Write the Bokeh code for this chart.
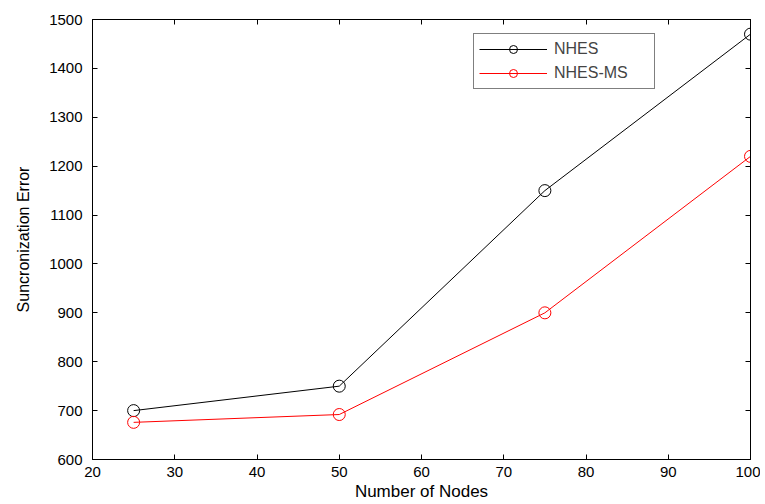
from bokeh.plotting import figure
from bokeh.models import LinearAxis, Range1d, FixedTicker, Legend, LegendItem
from bokeh.embed import file_html
from bokeh.resources import INLINE

nodes = [25, 50, 75, 100]
nhes = [700, 750, 1150, 1470]
nhes_ms = [676, 692, 900, 1220]
x_ticks = [20, 30, 40, 50, 60, 70, 80, 90, 100]
y_ticks = [600, 700, 800, 900, 1000, 1100, 1200, 1300, 1400, 1500]

FONT = "Liberation Sans"
W, H = 760, 504
p = figure(width=W, height=H, output_backend="svg", toolbar_location=None,
           x_range=Range1d(20, 100), y_range=Range1d(600, 1500),
           min_border_left=92, min_border_right=W - 750, min_border_top=19, min_border_bottom=H - 459,
           x_axis_label="Number of Nodes", y_axis_label="Suncronization Error")
p.grid.visible = False
p.outline_line_color = "black"
p.outline_line_width = 1
p.background_fill_color = "white"
p.border_fill_color = "white"

def style(ax, ticks, labels=True):
    ax.ticker = FixedTicker(ticks=ticks)
    ax.major_tick_in = 5
    ax.major_tick_out = 0
    ax.minor_tick_line_color = None
    ax.axis_line_color = "black"
    ax.major_tick_line_color = "black"
    ax.major_label_text_font = FONT
    ax.major_label_text_font_size = "15px"
    ax.major_label_text_color = "black" if labels else None
    ax.axis_label_text_font = FONT
    ax.axis_label_text_font_size = "16px"
    ax.axis_label_text_font_style = "normal"
    ax.axis_label_text_color = "black"

style(p.xaxis[0], x_ticks)
style(p.yaxis[0], y_ticks)
p.xaxis[0].major_label_standoff = 7
p.xaxis[0].axis_label_standoff = 2
p.xaxis[0].axis_label_text_font_size = "17px"
p.yaxis[0].major_label_standoff = 10
p.yaxis[0].axis_label_standoff = 14

top = LinearAxis()
style(top, x_ticks, labels=False)
top.major_label_text_font_size = "0px"
p.add_layout(top, "above")
right = LinearAxis()
style(right, y_ticks, labels=False)
right.major_label_text_font_size = "0px"
p.add_layout(right, "right")

l1 = p.line(nodes, nhes, line_color="black", line_width=1)
c1 = p.scatter(nodes, nhes, marker="circle", size=12, fill_color=None, line_color="black", line_width=1)
l2 = p.line(nodes, nhes_ms, line_color="red", line_width=1)
c2 = p.scatter(nodes, nhes_ms, marker="circle", size=12, fill_color=None, line_color="red", line_width=1)

legend = Legend(items=[LegendItem(label="NHES", renderers=[l1, c1]),
                       LegendItem(label="NHES-MS", renderers=[l2, c2])],
                location=(381, 370))
legend.label_text_font = FONT
legend.label_text_font_size = "16px"
legend.border_line_color = "black"
legend.border_line_width = 1
legend.glyph_width = 68
legend.glyph_height = 20
legend.label_height = 20
legend.label_width = 95
legend.spacing = 4
legend.padding = 5
legend.margin = 0
legend.label_standoff = 7
legend.background_fill_alpha = 1
p.add_layout(legend, "center")

open("out.html", "w").write(file_html(p, INLINE))
